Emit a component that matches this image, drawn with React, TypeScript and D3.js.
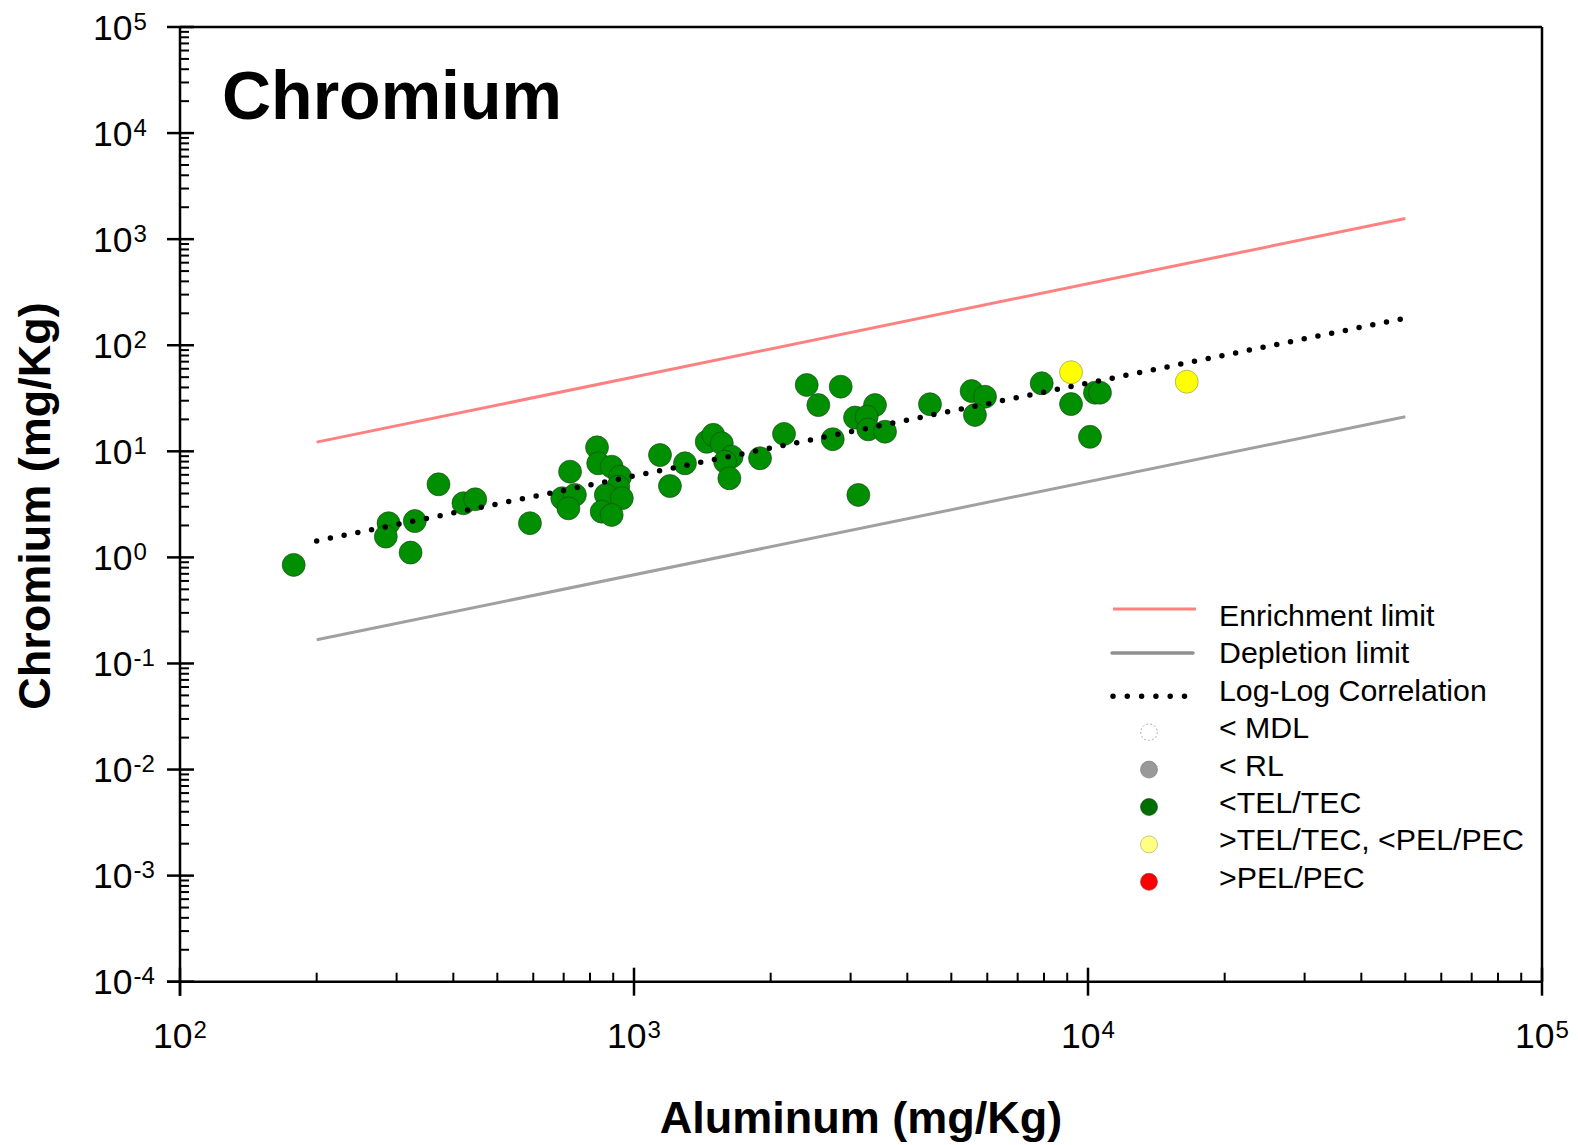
import React from "react";
import * as d3 from "d3";

// Sample concentrations (mg/Kg): aluminum vs chromium
const greenAl = [
  178, 288, 284, 329, 322, 371, 421, 447, 590, 723, 829, 834, 893, 932, 923, 695, 741, 717,
  867, 940, 849, 893, 1141, 1200, 1295, 1446, 1495, 1561, 1641, 1587, 1622, 1895, 2140, 2401,
  2853, 2547, 2740, 3068, 3395, 3255, 3281, 3572, 3120, 4487, 5541, 5931, 5636, 7907, 9175,
  10360, 10627, 10101,
];
const greenCr = [
  0.85, 2.1, 1.57, 2.2, 1.11, 4.89, 3.24, 3.53, 2.1, 6.43, 10.9, 7.71, 7.16, 5.77, 4.64, 3.61,
  3.88, 2.9, 3.88, 3.61, 2.7, 2.51, 9.23, 4.71, 7.71, 12.3, 14.3, 11.9, 8.9, 7.98, 5.57, 8.6,
  14.6, 42.2, 40.7, 27.3, 13.0, 20.8, 27.3, 21.2, 16.1, 15.3, 3.88, 27.8, 37.0, 32.7, 22.0, 43.8,
  27.9, 35.7, 35.7, 13.7,
];
const yellowAl = [9175, 16500];
const yellowCr = [55.6, 45.3];

// Reference lines: [Al, Cr] endpoints
const enrichmentLine: [number, number][] = [[200, 12.2], [50000, 1565]];
const depletionLine: [number, number][] = [[200, 0.167], [50000, 21.2]];
const regressionLine: [number, number][] = [[200, 1.43], [50000, 180]];

const xExponents = [2, 3, 4, 5];
const yExponents = [-4, -3, -2, -1, 0, 1, 2, 3, 4, 5];

const legendLabels = [
  "Enrichment limit",
  "Depletion limit",
  "Log-Log Correlation",
  "< MDL",
  "< RL",
  "<TEL/TEC",
  ">TEL/TEC, <PEL/PEC",
  ">PEL/PEC",
];

const FONT = "'Liberation Sans', Arial, Helvetica, sans-serif";

const W = 1578;
const H = 1145;
const left = 180;
const right = 1542;
const top = 27;
const bottom = 981.7;

export default function App() {
  const x = d3.scaleLog().domain([1e2, 1e5]).range([left, right]);
  const y = d3.scaleLog().domain([1e-4, 1e5]).range([bottom, top]);
  const line = d3
    .line<[number, number]>()
    .x((d) => x(d[0]))
    .y((d) => y(d[1]));

  const xMinor: number[] = [];
  for (let e = 2; e < 5; e++) for (let k = 2; k <= 9; k++) xMinor.push(k * Math.pow(10, e));
  const yMinor: number[] = [];
  for (let e = -4; e < 5; e++) for (let k = 2; k <= 9; k++) yMinor.push(k * Math.pow(10, e));

  const legX = 1219;
  const legY0 = 626;
  const legDy = 37.4;
  const symX = 1149;

  return (
    <svg
      width={W}
      height={H}
      viewBox={`0 0 ${W} ${H}`}
      style={{ position: "absolute", left: 0, top: 0, background: "#fff" }}
      fontFamily={FONT}
    >
      <rect x={0} y={0} width={W} height={H} fill="#fff" />

      {/* frame */}
      <line x1={left} x2={right} y1={top} y2={top} stroke="#000" strokeWidth={2.5} />
      <line x1={right} x2={right} y1={top} y2={bottom} stroke="#000" strokeWidth={2.5} />

      {/* y axis */}
      <line x1={left} x2={left} y1={top} y2={bottom + 14} stroke="#000" strokeWidth={2.5} />
      {yMinor.map((v, i) => (
        <line key={"ym" + i} x1={left} x2={left + 9} y1={y(v)} y2={y(v)} stroke="#000" strokeWidth={2} />
      ))}
      {yExponents.map((e) => {
        const yy = y(Math.pow(10, e));
        return (
          <g key={"yt" + e}>
            <line x1={left - 13} x2={left + 14} y1={yy} y2={yy} stroke="#000" strokeWidth={2.5} />
            <text x={93} y={yy + 12.5} fontSize={35.5} fill="#000">
              10
              <tspan fontSize={24} dx={1} dy={-10}>
                {e < 0 ? "-" + Math.abs(e) : String(e)}
              </tspan>
            </text>
          </g>
        );
      })}

      {/* x axis */}
      <line x1={left - 13} x2={right} y1={bottom} y2={bottom} stroke="#000" strokeWidth={2.5} />
      {xMinor.map((v, i) => (
        <line key={"xm" + i} x1={x(v)} x2={x(v)} y1={bottom} y2={bottom - 9} stroke="#000" strokeWidth={2} />
      ))}
      {xExponents.map((e) => {
        const xx = x(Math.pow(10, e));
        return (
          <g key={"xt" + e}>
            <line x1={xx} x2={xx} y1={bottom - 14} y2={bottom + 14} stroke="#000" strokeWidth={2.5} />
            <text x={xx} y={1048} fontSize={35.5} textAnchor="middle" fill="#000">
              10
              <tspan fontSize={24} dx={1} dy={-10}>
                {String(e)}
              </tspan>
            </text>
          </g>
        );
      })}

      {/* axis titles */}
      <text x={861} y={1133} fontSize={45} fontWeight="bold" textAnchor="middle" fill="#000">
        Aluminum (mg/Kg)
      </text>
      <text
        transform={`translate(50,506) rotate(-90)`}
        fontSize={45}
        fontWeight="bold"
        textAnchor="middle"
        fill="#000"
      >
        Chromium (mg/Kg)
      </text>

      {/* chart title */}
      <text x={222} y={119} fontSize={68} fontWeight="bold" fill="#000">
        Chromium
      </text>

      {/* data points */}
      {greenAl.map((a, i) => (
        <circle
          key={"g" + i}
          cx={x(a)}
          cy={y(greenCr[i])}
          r={11.5}
          fill="#008f00"
          stroke="#1f3f1f"
          strokeWidth={0.6}
        />
      ))}
      {yellowAl.map((a, i) => (
        <circle
          key={"yl" + i}
          cx={x(a)}
          cy={y(yellowCr[i])}
          r={11.5}
          fill="#ffff00"
          stroke="#8a8a5a"
          strokeWidth={0.6}
        />
      ))}

      {/* reference lines */}
      <path d={line(enrichmentLine) || ""} fill="none" stroke="#ff8080" strokeWidth={3} />
      <path d={line(depletionLine) || ""} fill="none" stroke="#a0a0a0" strokeWidth={3} />
      <path
        d={line(regressionLine) || ""}
        fill="none"
        stroke="#000"
        strokeWidth={5.5}
        strokeLinecap="round"
        strokeDasharray="0 14"
      />

      {/* legend */}
      <line x1={1113} x2={1196} y1={legY0 - 17} y2={legY0 - 17} stroke="#ff8080" strokeWidth={3} />
      <line
        x1={1112}
        x2={1193}
        y1={legY0 + legDy - 10.5}
        y2={legY0 + legDy - 10.5}
        stroke="#909090"
        strokeWidth={3.5}
        strokeLinecap="round"
      />
      <line
        x1={1113}
        x2={1186}
        y1={legY0 + 2 * legDy - 4.5}
        y2={legY0 + 2 * legDy - 4.5}
        stroke="#000"
        strokeWidth={5.5}
        strokeLinecap="round"
        strokeDasharray="0 14.3"
      />
      <circle cx={symX} cy={legY0 + 3 * legDy - 6} r={8.3} fill="#fff" stroke="#b0b0b0" strokeWidth={1} strokeDasharray="2 2" />
      <circle cx={symX} cy={legY0 + 4 * legDy - 6} r={8.5} fill="#999999" stroke="#777" strokeWidth={0.6} />
      <circle cx={symX} cy={legY0 + 5 * legDy - 6} r={8.5} fill="#006e00" stroke="#224422" strokeWidth={0.6} />
      <circle cx={symX} cy={legY0 + 6 * legDy - 6} r={8.5} fill="#ffff80" stroke="#a0a070" strokeWidth={0.6} />
      <circle cx={symX} cy={legY0 + 7 * legDy - 6} r={8.5} fill="#ff0000" stroke="#883333" strokeWidth={0.6} />
      {legendLabels.map((t, i) => (
        <text key={"lg" + i} x={legX} y={legY0 + i * legDy} fontSize={30.3} fill="#000">
          {t}
        </text>
      ))}
    </svg>
  );
}
